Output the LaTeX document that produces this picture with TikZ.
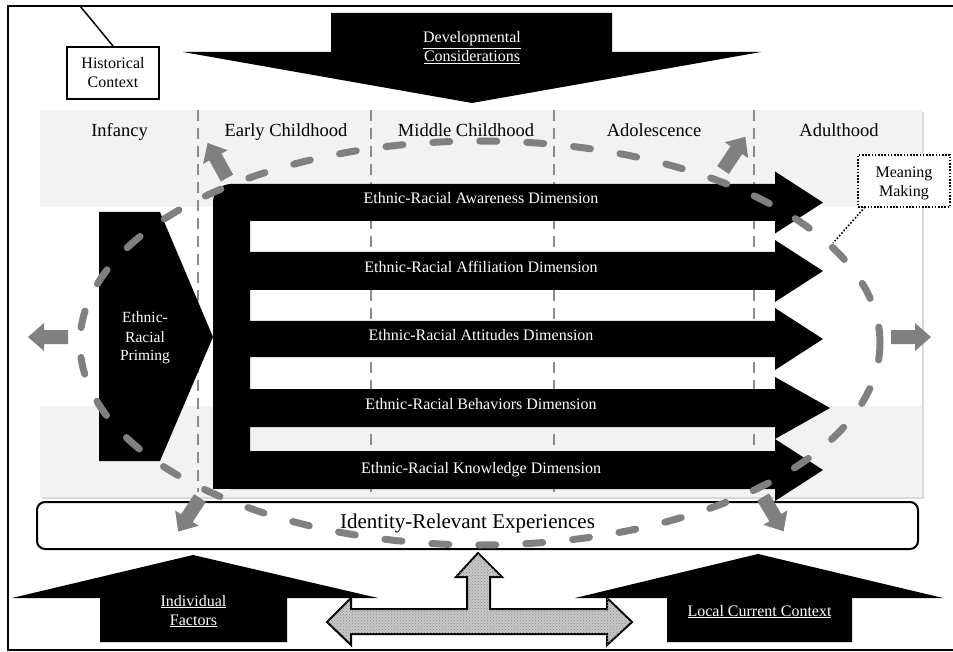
\documentclass[tikz,border=0pt]{standalone}
\usepackage{fontspec}
\setmainfont{Liberation Serif}
\usetikzlibrary{patterns}
\definecolor{dgray}{RGB}{128,128,128}
\definecolor{panelgray}{RGB}{242,242,242}
\definecolor{vline}{RGB}{140,140,140}
\newcommand\grayarr{\fill[dgray] (0pt,-7pt) -- (24pt,-7pt) -- (24pt,-14pt) -- (40pt,0pt) -- (24pt,14pt) -- (24pt,7pt) -- (0pt,7pt) -- cycle;}
\begin{document}
\begin{tikzpicture}[x=1pt,y=-1pt,
  lbl/.style={font=\fontsize{18.5}{22}\selectfont, anchor=base, inner sep=0pt},
  wtxt/.style={text=white, font=\fontsize{16}{19}\selectfont, anchor=base, inner sep=0pt},
  btxt/.style={text=black, font=\fontsize{16}{19}\selectfont, anchor=base, inner sep=0pt},
  ptxt/.style={text=white, font=\fontsize{15.5}{18.5}\selectfont, anchor=base, inner sep=0pt},
  boxed/.style={draw, line width=2pt, fill=white, minimum width=92pt, minimum height=52pt, inner sep=0pt},
  vdash/.style={draw=vline, line width=1.6pt, dash pattern=on 11pt off 7pt},
  eldash/.style={draw=dgray, line width=7pt, dash pattern=on 17pt off 30pt, line cap=round},
  blk/.style={fill=black}]
\useasboundingbox (0,0) rectangle (953,652);

% frame
\draw[line width=1.5pt] (953,6) -- (8,6) -- (8,650) -- (953,650);

% historical context
\coordinate (hl) at (80,6);
\node[boxed] (hist) at (113,73) {};
\draw[line width=1.5pt] (hl) -- (hist.north);
\node[btxt] (hist1) at (113,69) {Historical};
\node[btxt] (hist2) at (113,88) {Context};

% developmental considerations arrow
\fill[blk] (331,13) -- (612,13) -- (612,52) -- (761,52) -- (472,103) -- (183,52) -- (331,52) -- cycle;
\node[wtxt] (dev1) at (472,43) {\underline{Developmental}};
\node[wtxt] (dev2) at (472,62) {\underline{Considerations}};

% panel
\fill[black!15] (42,112) rectangle (924,499);
\fill[panelgray] (40,110) rectangle (922,497);
\fill[white] (40,207) rectangle (922,406);

% vertical dashed lines
\foreach \xx in {198,371,554,754} \draw[vdash] (\xx,110) -- (\xx,492);

% column labels
\node[lbl] (c1) at (119.5,137) {Infancy};
\node[lbl] (c2) at (286,137) {Early Childhood};
\node[lbl] (c3) at (466,137) {Middle Childhood};
\node[lbl] (c4) at (654,137) {Adolescence};
\node[lbl] (c5) at (839,137) {Adulthood};

% dimension comb
\fill[blk, rounded corners=18pt] (213,184) rectangle (250,489);
\fill[blk] (213,470) rectangle (250,489);
\foreach \t/\b/\c/\tip in {184/221/202.5/823, 252/290/271/823, 321/357/339/823, 389/427/408/830, 451/489/470/823}
  \fill[blk] (231,\t) -- (775,\t) -- (775,{\c-31}) -- (\tip,\c) -- (775,{\c+31}) -- (775,\b) -- (231,\b) -- cycle;
\node[wtxt] (d1) at (481,204) {Ethnic-Racial Awareness Dimension};
\node[wtxt] (d2) at (481,273) {Ethnic-Racial Affiliation Dimension};
\node[wtxt] (d3) at (481,341) {Ethnic-Racial Attitudes Dimension};
\node[wtxt] (d4) at (481,409) {Ethnic-Racial Behaviors Dimension};
\node[wtxt] (d5) at (481,473) {Ethnic-Racial Knowledge Dimension};

% priming
\fill[blk] (99,212) -- (160,212) -- (213,337) -- (160,461) -- (99,461) -- cycle;
\node[ptxt] (p1) at (145,323) {Ethnic-};
\node[ptxt] (p2) at (145,342) {Racial};
\node[ptxt] (p3) at (145,360) {Priming};

% identity-relevant experiences
\node[draw, line width=2pt, fill=white, rounded corners=8pt, minimum width=881pt, minimum height=47pt, inner sep=0pt] (ire) at (477.5,525.5) {};
\node[font=\fontsize{21}{25}\selectfont, anchor=base, inner sep=0pt] (iret) at (467.5,528) {Identity-Relevant Experiences};

% bottom black arrows
\fill[blk] (100,642) -- (100,598) -- (12,598) -- (193,555) -- (378,598) -- (287,598) -- (287,642) -- cycle;
\node[wtxt] (if1) at (193.5,606) {\underline{Individual}};
\node[wtxt] (if2) at (193.5,625) {\underline{Factors}};
\fill[blk] (667,642) -- (667,598) -- (575,598) -- (758,554) -- (943,598) -- (852,598) -- (852,642) -- cycle;
\node[wtxt] (lc) at (759.5,616) {\underline{Local Current Context}};

% T-shaped double arrow
\draw[line width=2pt, fill=black!22, postaction={pattern=crosshatch dots, pattern color=black!45}]
  (327,622) -- (351,598) -- (351,609) -- (467,609) -- (467,577) -- (456,577) -- (478,553) -- (502,577) -- (490,577) -- (490,609) -- (607,609) -- (607,598) -- (632,622) -- (607,645) -- (607,634) -- (351,634) -- (351,645) -- cycle;

% dashed ellipse
\draw[eldash] (480,343) ellipse [x radius=400, y radius=202];

% gray outward arrows
\begin{scope}[shift={(227,178)},rotate=119]\grayarr\end{scope}
\begin{scope}[shift={(723,170)},rotate=56]\grayarr\end{scope}
\begin{scope}[shift={(68,337)},rotate=180]\grayarr\end{scope}
\begin{scope}[shift={(891,337)},rotate=0]\grayarr\end{scope}
\begin{scope}[shift={(200,498)},rotate=237]\grayarr\end{scope}
\begin{scope}[shift={(763,497)},rotate=-59]\grayarr\end{scope}

% meaning making
\node[boxed, draw=black, dash pattern=on 1.6pt off 1.6pt] (mm) at (904,181) {};
\node[btxt] (mm1) at (904,178) {Meaning};
\node[btxt] (mm2) at (904,197) {Making};
\coordinate (mmend) at (833,243);
\coordinate (mmstart) at (865,207);
\draw[line width=1.6pt, dash pattern=on 1.6pt off 1.8pt] (mmstart) -- (mmend);
\end{tikzpicture}
\end{document}
